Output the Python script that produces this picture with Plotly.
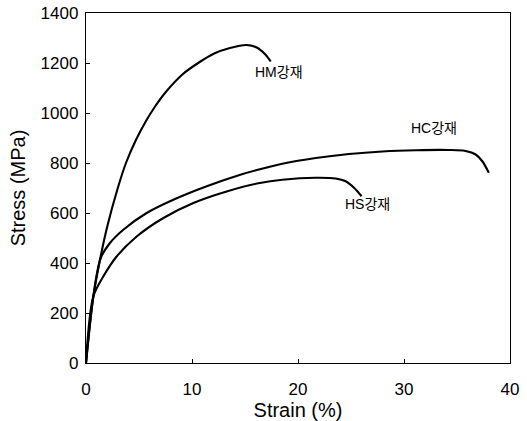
import plotly.graph_objects as go

# Data
hm_strain = [0, 0.69, 1.32, 2.0, 3.0, 3.77, 4.72, 5.66, 6.5, 7.55, 9.12, 10.69, 12.1, 13.58, 15.15, 16.1, 16.9, 17.43]
hm_stress = [0, 266, 413, 545, 700, 800, 893, 968, 1025, 1085, 1155, 1203, 1238, 1260, 1272, 1262, 1235, 1206]

hc_strain = [0, 0.69, 1.39, 2.26, 3.52, 5.72, 8.24, 11.39, 14.56, 16.4, 18.52, 21.67, 24.81, 27.96, 31.1, 34.25, 35.8, 36.76, 37.39, 38.0]
hc_stress = [0, 266, 420, 480, 533, 600, 653, 707, 753, 775, 797, 820, 836, 846, 851, 852, 848, 834, 807, 761]

hs_strain = [0, 0.69, 1.63, 2.89, 4.78, 7.3, 10.13, 13.27, 16.4, 18.52, 21.67, 23.55, 24.5, 25.28, 26.0]
hs_stress = [0, 266, 346, 426, 506, 580, 640, 686, 720, 733, 741, 738, 727, 701, 667]

labels = ["HM강재", "HC강재", "HS강재"]
label_x = [18.2, 32.8, 26.6]
label_y = [1165, 939, 637]

FONT = "Liberation Sans, Arial, Noto Sans CJK KR, sans-serif"

fig = go.Figure()
for xs, ys in [(hm_strain, hm_stress), (hc_strain, hc_stress), (hs_strain, hs_stress)]:
    fig.add_trace(go.Scatter(x=xs, y=ys, mode="lines",
                             line=dict(color="black", width=2.1, shape="spline", smoothing=0.9),
                             showlegend=False, hoverinfo="skip"))

for t, x, y in zip(labels, label_x, label_y):
    fig.add_annotation(x=x, y=y, text=t, showarrow=False, xanchor="center", yanchor="middle",
                       font=dict(family="Liberation Sans, Noto Sans CJK KR, sans-serif", size=14, color="black"))

axis_common = dict(showline=True, mirror=True, linecolor="black", linewidth=1.3,
                   ticks="inside", ticklen=4, tickcolor="black", tickwidth=1,
                   showgrid=False, zeroline=False, automargin=False,
                   tickfont=dict(family=FONT, size=17, color="black"))

fig.update_xaxes(range=[0, 40], dtick=10, tick0=0, ticklabelstandoff=10,
                 title=dict(text="Strain (%)", font=dict(family=FONT, size=20, color="black"), standoff=2),
                 **axis_common)
fig.update_yaxes(range=[0, 1400], dtick=200, tick0=0, ticklabelstandoff=3,
                 title=dict(text="Stress (MPa)", font=dict(family=FONT, size=20, color="black"), standoff=9),
                 **axis_common)

fig.update_layout(width=527, height=421,
                  margin=dict(l=86, r=17, t=13, b=58),
                  paper_bgcolor="white", plot_bgcolor="white")

# remove the page's default 8px body margin so the figure fills the window
fig.write_html("out.html", config={"displayModeBar": False},
               post_script="document.body.style.margin='0px';")
